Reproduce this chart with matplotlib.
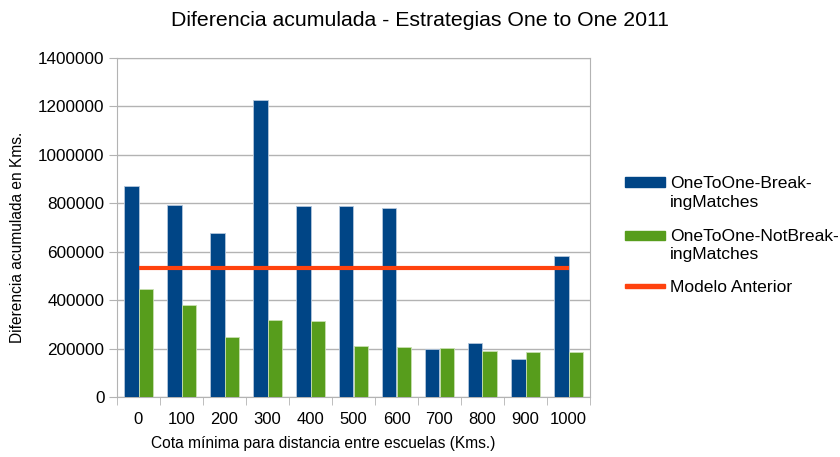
import numpy as np
import matplotlib.pyplot as plt
from matplotlib.patches import Rectangle

plt.rcParams['font.family'] = ['Liberation Sans', 'DejaVu Sans']

cotas = ['0', '100', '200', '300', '400', '500', '600', '700', '800', '900', '1000']
breaking = [872000, 793000, 678000, 1228000, 789000, 789000, 782000, 197000, 223000, 155000, 584000]
not_breaking = [446000, 380000, 247000, 320000, 313000, 210000, 207000, 204000, 190000, 186000, 184000]
modelo_anterior = [534000] * len(cotas)

azul = '#004586'
verde = '#579d1c'
rojo = '#ff420e'

W, H = 840, 457
fig = plt.figure(figsize=(W / 100, H / 100), dpi=100)
ax = fig.add_axes([117 / W, 60 / H, 473 / W, 339 / H])

x = np.arange(len(cotas))
w = 1 / 3
ax.bar(x - w / 2, breaking, w, color=azul, edgecolor='#b4c7dc', linewidth=0.6, zorder=3)
ax.bar(x + w / 2, not_breaking, w, color=verde, edgecolor='#c8e0b0', linewidth=0.6, zorder=3)
ax.plot(x, modelo_anterior, color=rojo, linewidth=3, zorder=4, solid_capstyle='butt')

ax.set_xlim(-0.5, len(cotas) - 0.5)
ax.set_ylim(0, 1400000)
ax.set_yticks(np.arange(0, 1400001, 200000))
ax.set_yticklabels([str(v) for v in range(0, 1400001, 200000)], fontsize=12.3)
ax.yaxis.grid(True, color='#b3b3b3', linewidth=1, zorder=0)

ax.set_xticks(x)
ax.set_xticklabels(cotas, fontsize=12)
ax.tick_params(axis='x', length=0, pad=11)
ax.tick_params(axis='y', length=6, color='#b3b3b3', pad=3)
# separadores entre categorias
ax.set_xticks(np.arange(-0.5, len(cotas)), minor=True)
ax.tick_params(axis='x', which='minor', length=6, color='#b3b3b3')

for s in ax.spines.values():
    s.set_color('#b3b3b3')

ax.set_xlabel('Cota mínima para distancia entre escuelas (Kms.)', fontsize=11.2)
ax.xaxis.set_label_coords((323 - 117) / 473, -(448 - 397) / 339, transform=ax.transAxes)
ax.xaxis.label.set_va('baseline')
ax.set_ylabel('Diferencia acumulada en Kms.', fontsize=11.2)
ax.yaxis.set_label_coords(-(117 - 17.5) / 473, (397 - 237) / 339, transform=ax.transAxes)
ax.yaxis.label.set_va('center')

fig.text(0.5, 1 - 26 / H, 'Diferencia acumulada - Estrategias One to One 2011',
         ha='center', va='baseline', fontsize=15.3)

# leyenda dibujada a mano: muestra alineada con la primera linea del texto
entradas = [
    (['OneToOne-Break-', 'ingMatches'], azul, 188, 'box'),
    (['OneToOne-NotBreak-', 'ingMatches'], verde, 241, 'box'),
    (['Modelo Anterior'], rojo, 291.5, 'line'),
]
for lineas, color, base, tipo in entradas:
    if tipo == 'box':
        fig.add_artist(Rectangle((625 / W, 1 - (base - 1.5) / H), 40 / W, 9 / H,
                                 transform=fig.transFigure, color=color))
    else:
        fig.add_artist(Rectangle((625 / W, 1 - (base - 3.5) / H), 40 / W, 4.5 / H,
                                 transform=fig.transFigure, color=color))
    for i, linea in enumerate(lineas):
        fig.text(670 / W, 1 - (base + 18.5 * i) / H, linea, ha='left', va='baseline',
                 fontsize=12.6)

fig.savefig('out.png', dpi=100)
